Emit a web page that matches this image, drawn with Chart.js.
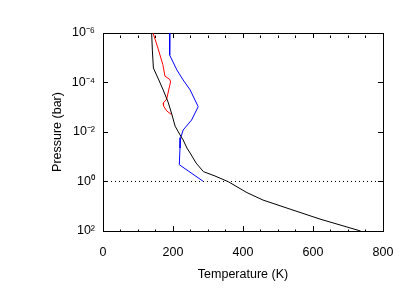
<!DOCTYPE html>
<html>
<head>
<meta charset="utf-8">
<script src="https://cdn.jsdelivr.net/npm/chart.js@4/dist/chart.umd.min.js"></script>
<style>
html,body{margin:0;padding:0;background:#fff;}
canvas{display:block;}
</style>
</head>
<body>
<canvas id="c" width="415" height="297"></canvas>
<script>
// Temperature (K) and pressure (bar) profiles
const blackT = [139,141,144,157,172,186,197,206,220,229,240,249,266,287,320,358,411,457,534,620,736];
const blackP = [1e-6,4.9e-6,2.6e-5,6.6e-5,2.0e-4,6.2e-4,2.0e-3,5.8e-3,0.013,0.021,0.045,0.071,0.18,0.40,0.60,1.02,2.8,5.6,13,33,100];

const redT = [143,157,171,177,191,193,189,182,172,173,182,196];
const redP = [1e-6,4.1e-6,1.9e-5,5.5e-5,7.6e-5,9.5e-5,1.66e-4,4.7e-4,6.8e-4,8.9e-4,1.4e-3,2.0e-3];

const blueT = [191,190,191,211,229,249,272,253,229,222,220,218,287];
const blueP = [1e-6,3.0e-6,7.8e-6,3.1e-5,7.9e-5,2.0e-4,9.5e-4,3.3e-3,8.3e-3,0.017,0.045,0.21,1.0];

const refT = [0,800];
const refP = [1,1];

const yTickValues = [1e-6,1e-4,1e-2,1,1e2];
const yTickLabels = ['10\u207B\u2076','10\u207B\u2074','10\u207B\u00B2','10\u2070','10\u00B2'];
const xMajorStep = 200;
const xMinorStep = 50;

function pts(xs, ys){ return xs.map((x,i)=>({x:x, y:ys[i]})); }

const FONT = {family:'"Liberation Sans", Arial, Helvetica, sans-serif', size:12.5};

function lineDs(xs, ys, color, dash){
  return {data: pts(xs,ys), borderColor: color, borderWidth: 1, pointRadius: 0,
          showLine: true, tension: 0, fill: false, borderDash: dash || []};
}

const xGrid = {
  drawOnChartArea:false, drawTicks:true, tickLength:-5, color:'#000', tickColor:'#000', tickWidth:1,
  tickBorderDash: ctx => (ctx.tick && ctx.tick.value % xMajorStep === 0) ? [] : [2.5, 20]
};
const yGrid = {drawOnChartArea:false, drawTicks:true, tickLength:-5, color:'#000', tickColor:'#000', tickWidth:1};
const yTicksBuild = s => { s.ticks = yTickValues.map(v=>({value:v})); };

new Chart(document.getElementById('c'), {
  type: 'scatter',
  data: {
    datasets: [
      lineDs(refT, refP, '#000', [1,3]),
      lineDs(blackT, blackP, '#000'),
      lineDs(redT, redP, '#ff0000'),
      lineDs(blueT, blueP, '#0000ff')
    ]
  },
  options: {
    responsive:false, animation:false, devicePixelRatio:1,
    layout:{padding:{left:0, right:32, top:33, bottom:0}},
    plugins:{legend:{display:false}, tooltip:{enabled:false}},
    scales:{
      x:{
        type:'linear', position:'bottom', min:0, max:800,
        grid:xGrid, border:{display:true, color:'#000', width:1},
        afterBuildTicks: s => { const t=[]; for(let v=0; v<=800; v+=xMinorStep) t.push({value:v}); s.ticks=t; },
        ticks:{autoSkip:false, maxRotation:0, color:'#000', font:FONT, padding:19,
               callback: v => (v % xMajorStep === 0) ? String(v) : ''},
        title:{display:true, text:'Temperature (K)', color:'#000', font:FONT, padding:{top:0,bottom:15}},
        afterFit: s => { s.height = 66; }
      },
      x2:{
        type:'linear', position:'top', min:0, max:800, display:true,
        grid:xGrid, border:{display:true, color:'#000', width:1},
        afterBuildTicks: s => { const t=[]; for(let v=0; v<=800; v+=xMinorStep) t.push({value:v}); s.ticks=t; },
        ticks:{display:false, autoSkip:false},
        afterFit: s => { s.height = 0; }
      },
      y:{
        type:'logarithmic', position:'left', reverse:true, min:1e-6, max:1e2,
        grid:yGrid, border:{display:true, color:'#000', width:1},
        afterBuildTicks: yTicksBuild,
        ticks:{autoSkip:false, color:'#000', font:FONT, padding:13,
               callback: v => { const i = yTickValues.findIndex(t => Math.abs(Math.log10(t)-Math.log10(v))<1e-6); return i>=0 ? yTickLabels[i] : ''; }},
        title:{display:true, text:'Pressure (bar)', color:'#000', font:FONT, padding:{top:50,bottom:0}},
        afterFit: s => { s.width = 103; }
      },
      y2:{
        type:'logarithmic', position:'right', reverse:true, min:1e-6, max:1e2, display:true,
        grid:yGrid, border:{display:true, color:'#000', width:1},
        afterBuildTicks: yTicksBuild,
        ticks:{display:false, autoSkip:false},
        afterFit: s => { s.width = 0; }
      }
    }
  }
});
</script>
</body>
</html>
